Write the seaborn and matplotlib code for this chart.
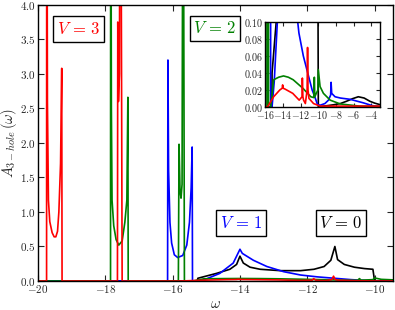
import matplotlib
matplotlib.use("Agg")
import matplotlib.pyplot as plt
import seaborn as sns
from matplotlib.ticker import FuncFormatter, MultipleLocator

# Spectral function A_3-hole(omega) for four values of V
omega_v0 = [-20.0, -15.27, -15.25, -14.7, -14.3, -14.1, -14.0, -13.9, -13.7, -13.4,
            -12.8, -12.2, -11.8, -11.5, -11.3, -11.18, -11.1, -10.9, -10.6, -10.3,
            -10.05, -10.0, -9.8, -9.0, -8.3, -7.5, -6.8, -6.1, -5.46, -4.8,
            -4.15, -3.6, -3.0]
a_v0 = [0.0, 0.0, 0.04, 0.11, 0.17, 0.24, 0.36, 0.26, 0.20, 0.17,
        0.15, 0.15, 0.17, 0.21, 0.30, 0.50, 0.31, 0.24, 0.20, 0.18,
        0.17, 0.0, 0.0005, 0.0015, 0.0025, 0.004, 0.0067, 0.0098, 0.012, 0.0105,
        0.0067, 0.0045, 0.0027]

omega_v1 = [-20.0, -16.15, -16.14, -16.12, -16.08, -16.03, -15.95, -15.85, -15.7, -15.58,
            -15.5, -15.45, -15.42, -15.41, -15.25, -15.0, -14.6, -14.2, -14.0, -13.93,
            -13.6, -13.2, -12.7, -12.2, -11.7, -11.2, -10.7, -10.4, -10.1, -9.8,
            -9.25, -8.85, -8.6, -8.55, -8.48, -8.1, -7.5, -6.4, -4.95, -3.85,
            -3.0]
a_v1 = [0.0, 0.0, 3.2, 1.6, 0.85, 0.55, 0.38, 0.34, 0.37, 0.52,
        0.85, 1.35, 1.94, 0.0, 0.0, 0.03, 0.11, 0.26, 0.46, 0.40,
        0.30, 0.21, 0.135, 0.087, 0.06, 0.04, 0.02, 0.012, 0.003, 0.002,
        0.004, 0.008, 0.014, 0.029, 0.016, 0.012, 0.0105, 0.009, 0.005, 0.0015,
        0.0005]

omega_v2 = [-20.0, -17.845, -17.84, -17.82, -17.8, -17.75, -17.68, -17.6, -17.5, -17.42,
            -17.36, -17.33, -17.32, -15.83, -15.81, -15.78, -15.75, -15.72, -15.69, -15.665,
            -15.65, -15.4, -15.07, -14.5, -13.95, -13.4, -12.85, -12.3, -11.75, -10.85,
            -10.5, -10.45, -10.4, -10.05, -10.0, -9.8, -9.42, -8.65, -7.5, -5.3,
            -3.0]
a_v2 = [0.0, 0.0, 8.0, 2.5, 1.17, 0.8, 0.6, 0.52, 0.58, 0.85,
        1.17, 2.66, 0.0, 0.0, 1.98, 1.3, 1.2, 1.4, 8.0, 3.0,
        0.0, 0.0, 0.032, 0.035, 0.0365, 0.035, 0.032, 0.027, 0.022, 0.012,
        0.011, 0.035, 0.012, 0.02, 0.044, 0.024, 0.016, 0.008, 0.0035, 0.001,
        0.0005]

omega_v3 = [-20.0, -19.745, -19.74, -19.72, -19.69, -19.65, -19.58, -19.52, -19.47, -19.42,
            -19.38, -19.33, -19.295, -19.285, -17.64, -17.63, -17.61, -17.58, -17.56, -17.53,
            -17.5, -15.77, -15.07, -14.37, -14.1, -14.05, -13.98, -13.77, -12.9, -12.17,
            -11.85, -11.81, -11.75, -11.67, -11.47, -11.27, -11.22, -11.17, -11.06, -10.54,
            -9.81, -3.0]
a_v3 = [0.0, 0.0, 8.0, 2.6, 1.17, 0.86, 0.7, 0.64, 0.64, 0.72,
        1.0, 1.7, 3.08, 0.0, 0.0, 3.75, 2.6, 3.0, 8.0, 5.0,
        0.0, 0.0, 0.012, 0.02, 0.022, 0.026, 0.022, 0.021, 0.016, 0.008,
        0.012, 0.034, 0.012, 0.008, 0.004, 0.02, 0.07, 0.02, 0.01, 0.004,
        0.001, 0.001]

curves = [
    (omega_v0, a_v0, "k", r"$V\,=\,0$"),
    (omega_v1, a_v1, "b", r"$V\,=\,1$"),
    (omega_v2, a_v2, "g", r"$V\,=\,2$"),
    (omega_v3, a_v3, "r", r"$V\,=\,3$"),
]
label_pos = [(-11.0, 0.84), (-13.97, 0.84), (-14.75, 3.66), (-18.8, 3.65)]

sns.set_style("ticks")
plt.rcParams["mathtext.fontset"] = "cm"
plt.rcParams["font.family"] = ["DejaVu Sans"]
plt.rcParams["xtick.direction"] = "in"
plt.rcParams["ytick.direction"] = "in"
plt.rcParams["xtick.top"] = True
plt.rcParams["ytick.right"] = True

fig = plt.figure(figsize=(3.95, 3.10), dpi=100)
ax = fig.add_axes([0.0962, 0.0935, 0.899, 0.891])
inset = fig.add_axes([0.672, 0.655, 0.290, 0.274])

for (om, a, col, lab), (tx, ty) in zip(curves, label_pos):
    for target in (ax, inset):
        sns.lineplot(x=om, y=a, color=col, lw=1.2, ax=target,
                     estimator=None, sort=False)
    ax.text(tx, ty, lab, color=col, fontsize=12, ha="center", va="center",
            bbox=dict(boxstyle="square,pad=0.22", fc="white", ec="black", lw=1))

ax.set_xlim(-20, -9.45)
ax.set_ylim(0, 4.0)
ax.xaxis.set_major_locator(MultipleLocator(2))
ax.yaxis.set_major_locator(MultipleLocator(0.5))
ax.xaxis.set_major_formatter(FuncFormatter(lambda v, p: f"${v:.0f}$"))
ax.yaxis.set_major_formatter(FuncFormatter(lambda v, p: f"${v:.1f}$"))
ax.tick_params(labelsize=8, length=4, width=0.8, pad=1.5)
ax.set_xlabel(r"$\omega$", fontsize=10.5, labelpad=1)
ax.set_ylabel(r"$A_{3-hole}\,(\omega)$", fontsize=10.5, labelpad=1)

inset.set_xlim(-16, -3.0)
inset.set_ylim(0, 0.1)
inset.xaxis.set_major_locator(MultipleLocator(2))
inset.yaxis.set_major_locator(MultipleLocator(0.02))
inset.xaxis.set_major_formatter(FuncFormatter(lambda v, p: f"${v:.0f}$"))
inset.yaxis.set_major_formatter(FuncFormatter(lambda v, p: f"${v:.2f}$"))
inset.tick_params(labelsize=7.2, length=3, width=0.8, pad=1.5)
inset.set_xlabel("")
inset.set_ylabel("")

for a_ in (ax, inset):
    for s in a_.spines.values():
        s.set_color("black")
        s.set_linewidth(1.0)

fig.savefig("out.png", dpi=100)
